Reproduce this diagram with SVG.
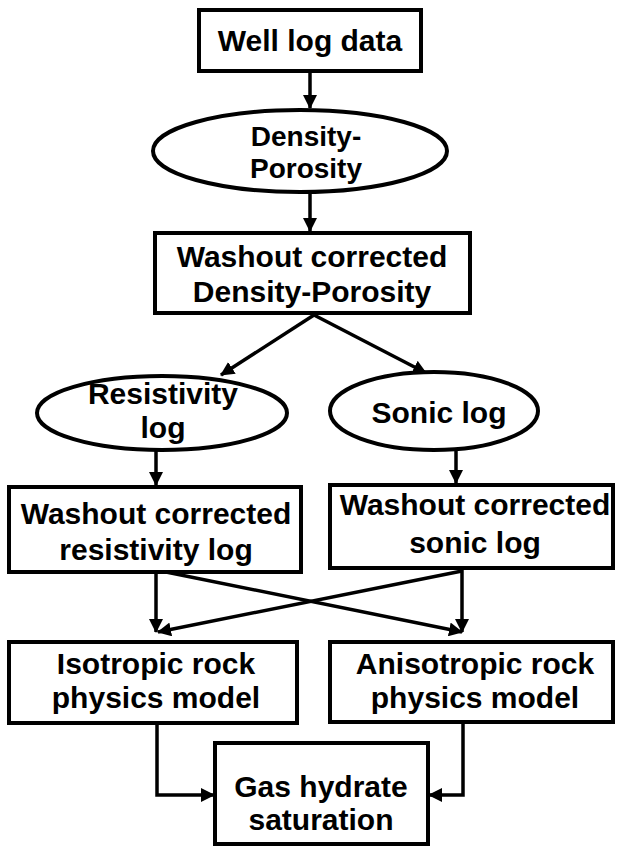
<svg xmlns="http://www.w3.org/2000/svg" width="619" height="847" viewBox="0 0 619 847">
<style>
.box{fill:#fff;stroke:#000;stroke-width:4}
.t{font-family:"Liberation Sans",Arial,sans-serif;font-weight:bold;font-size:30px;fill:#000;text-anchor:middle}
.s{font-size:28px}
.c{fill:none;stroke:#000;stroke-width:3.5}
</style>
<defs>
<marker id="ah" markerUnits="userSpaceOnUse" markerWidth="14" markerHeight="14" viewBox="0 0 14 14" refX="13" refY="7" orient="auto">
<path d="M0,0 L14,7 L0,14 z" fill="#000"/>
</marker>
</defs>
<g id="connectors">
<line class="c" x1="310" y1="71" x2="310" y2="108" marker-end="url(#ah)"/>
<line class="c" x1="310" y1="192" x2="310" y2="231" marker-end="url(#ah)"/>
<line class="c" x1="314" y1="315" x2="221" y2="375" marker-end="url(#ah)"/>
<line class="c" x1="314" y1="315" x2="426" y2="373" marker-end="url(#ah)"/>
<line class="c" x1="156" y1="450" x2="156" y2="485" marker-end="url(#ah)"/>
<line class="c" x1="456" y1="450" x2="456" y2="483" marker-end="url(#ah)"/>
<line class="c" x1="156" y1="572" x2="156" y2="632" marker-end="url(#ah)"/>
<line class="c" x1="462" y1="568" x2="462" y2="632" marker-end="url(#ah)"/>
<line class="c" x1="166" y1="572" x2="462" y2="632" marker-end="url(#ah)"/>
<line class="c" x1="462" y1="571" x2="158" y2="632" marker-end="url(#ah)"/>
<polyline class="c" points="157,723 157,795 214,795" marker-end="url(#ah)"/>
<polyline class="c" points="463,722 463,795 429,795" marker-end="url(#ah)"/>
</g>
<g id="well-log-data">
<rect class="box" x="199" y="10" width="222" height="61"/>
<text class="t" x="310" y="51">Well log data</text>
</g>
<g id="density-porosity">
<ellipse class="box" cx="300" cy="151" rx="147" ry="41"/>
<text class="t s" x="306" y="146">Density-</text>
<text class="t s" x="306" y="178">Porosity</text>
</g>
<g id="washout-density">
<rect class="box" x="155" y="233" width="315" height="80"/>
<text class="t" x="312" y="267">Washout corrected</text>
<text class="t" x="312" y="302">Density-Porosity</text>
</g>
<g id="resistivity-log">
<ellipse class="box" cx="162" cy="413" rx="125" ry="37"/>
<text class="t" x="163" y="404">Resistivity</text>
<text class="t" x="163" y="438">log</text>
</g>
<g id="sonic-log">
<ellipse class="box" cx="434" cy="411" rx="104" ry="39"/>
<text class="t" x="439" y="423">Sonic log</text>
</g>
<g id="washout-resistivity">
<rect class="box" x="9" y="487" width="292" height="85"/>
<text class="t" x="156" y="524">Washout corrected</text>
<text class="t" x="156" y="560">resistivity log</text>
</g>
<g id="washout-sonic">
<rect class="box" x="330" y="485" width="283" height="83"/>
<text class="t" x="475" y="515">Washout corrected</text>
<text class="t" x="475" y="553">sonic log</text>
</g>
<g id="isotropic">
<rect class="box" x="9" y="642" width="288" height="81"/>
<text class="t" x="156" y="674">Isotropic rock</text>
<text class="t" x="156" y="708">physics model</text>
</g>
<g id="anisotropic">
<rect class="box" x="330" y="642" width="283" height="80"/>
<text class="t" x="475" y="674">Anisotropic rock</text>
<text class="t" x="475" y="708">physics model</text>
</g>
<g id="gas-hydrate">
<rect class="box" x="215" y="743" width="213" height="101"/>
<text class="t" x="321" y="797">Gas hydrate</text>
<text class="t" x="321" y="830">saturation</text>
</g>
</svg>
